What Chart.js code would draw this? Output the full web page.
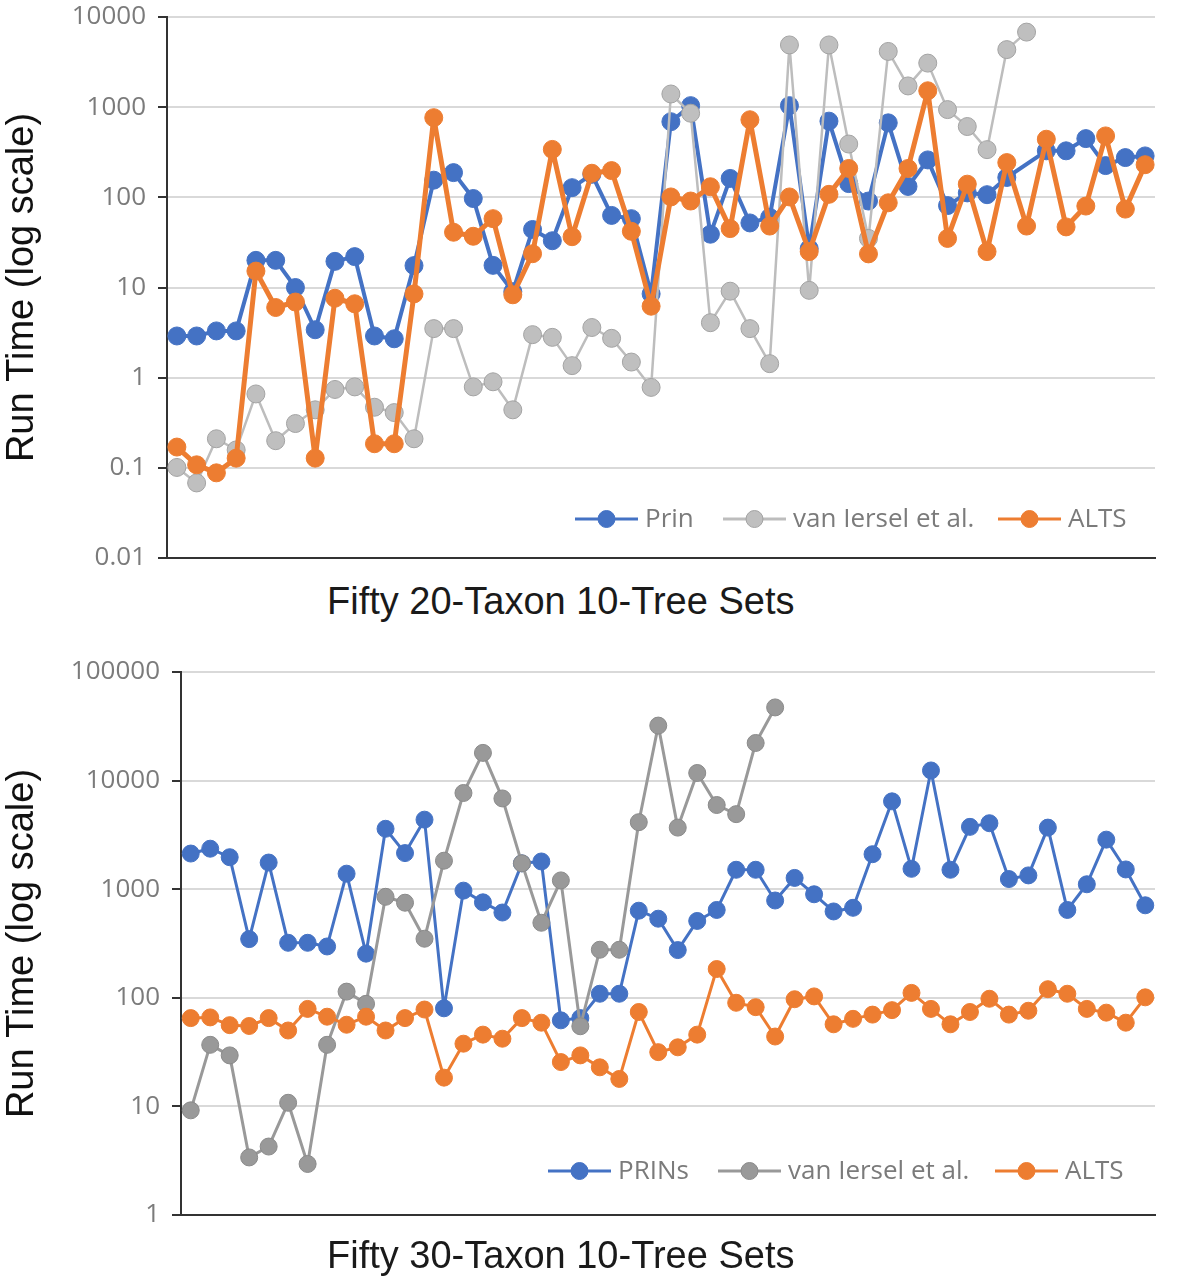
<!DOCTYPE html>
<html>
<head>
<meta charset="utf-8">
<script src="https://cdn.jsdelivr.net/npm/chart.js"></script>
<style>
  body { margin: 0; background: #fff; width: 1177px; height: 1280px; position: relative; overflow: hidden; }
  .box { position: absolute; left: 0; width: 1177px; }
  #topBox { top: 0; height: 580px; }
  #bottomBox { top: 640px; height: 600px; }
  .xtitle { position: absolute; left: 327px; font: 38px "Liberation Sans", Arial, sans-serif; color: #1a1a1a; white-space: nowrap; line-height: 38px; }
</style>
</head>
<body>
<div class="box" id="topBox"><canvas id="chart20"></canvas></div>
<div class="xtitle" style="top:582px">Fifty 20-Taxon 10-Tree Sets</div>
<div class="box" id="bottomBox"><canvas id="chart30"></canvas></div>
<div class="xtitle" style="top:1236px">Fifty 30-Taxon 10-Tree Sets</div>
<script>
// one label per tree set (50 sets in each panel)
const setLabels = [];
for (let i = 1; i <= 50; i++) setLabels.push("Set " + i);

// 20-taxon panel, run times in seconds
const prin20 = [2.9, 2.9, 3.3, 3.3, 20, 20, 10, 3.4, 19.5, 22, 2.9, 2.7, 17.5, 155, 188, 97, 17.6, 9, 44, 33,
  128, 180, 63, 58, 8.5, 690, 1040, 39, 162, 52, 60, 1040, 27, 700, 142, 91, 670, 132, 260, 81,
  112, 107, 166, null, 328, 328, 448, 225, 276, 288];
const iersel20 = [0.101, 0.068, 0.21, 0.158, 0.66, 0.2, 0.31, 0.44, 0.74, 0.79, 0.47, 0.41, 0.21, 3.5, 3.5, 0.79, 0.9, 0.44, 3.0, 2.8,
  1.36, 3.6, 2.73, 1.49, 0.78, 1400, 857, 4.07, 9.1, 3.5, 1.43, 4900, 9.3, 4900, 390, 35, 4150, 1720, 3080, 940,
  610, 338, 4350, 6800, null, null, null, null, null, null];
const alts20 = [0.17, 0.108, 0.088, 0.128, 15.2, 6.0, 6.9, 0.128, 7.6, 6.6, 0.185, 0.185, 8.5, 765, 41, 37, 58, 8.3, 23.7, 340,
  36.6, 185, 198, 42, 6.2, 101, 91, 131, 45, 725, 48, 101, 25, 108, 209, 23.6, 87, 209, 1520, 35,
  140, 25, 243, 48, 441, 47, 80, 480, 74, 230];
const ticks20 = [0.01, 0.1, 1, 10, 100, 1000, 10000];

// 30-taxon panel
const prin30 = [2130, 2360, 1970, 347, 1760, 321, 321, 297, 1390, 255, 3600, 2150, 4370, 80, 970, 757, 610, 1730, 1800, 62,
  65, 109, 109, 634, 535, 275, 510, 644, 1510, 1510, 787, 1270, 898, 624, 674, 2100, 6440, 1540, 12400, 1510,
  3750, 4050, 1240, 1340, 3690, 644, 1110, 2860, 1520, 711];
const iersel30 = [9.2, 36.9, 29.5, 3.39, 4.27, 10.8, 2.95, 36.9, 114, 88, 851, 751, 350, 1830, 7690, 18000, 6850, 1730, 491, 1205,
  54.7, 277, 277, 4140, 32100, 3690, 11750, 5960, 4910, 22200, 47200, null, null, null, null, null, null, null, null, null,
  null, null, null, null, null, null, null, null, null, null];
const alts30 = [65, 66, 56, 55, 65, 50, 79, 67, 56.5, 67, 50, 65, 78, 18.4, 37.8, 45.8, 42, 65, 59, 25.6,
  29.5, 22.9, 17.9, 74, 31.6, 35, 45.8, 184, 90, 82, 44, 97, 103, 57, 64, 70, 77, 111, 79, 57,
  74, 98, 70, 76, 120, 109, 79, 73, 59, 101];
const ticks30 = [1, 10, 100, 1000, 10000, 100000];

const BLUE = "#4472C4", ORANGE = "#ED7D31";

// Excel-style legend drawn inside the plot area: short line with a marker, then the label
const insideLegend = {
  id: "insideLegend",
  afterDatasetsDraw(chart, args, opts) {
    const ctx = chart.ctx;
    ctx.save();
    ctx.font = opts.font;
    ctx.textBaseline = "middle";
    chart.data.datasets.forEach((ds, i) => {
      const x = opts.xs[i], y = opts.y;
      ctx.strokeStyle = ds.borderColor;
      ctx.lineWidth = 3;
      ctx.beginPath();
      ctx.moveTo(x, y);
      ctx.lineTo(x + opts.lineLen, y);
      ctx.stroke();
      ctx.beginPath();
      ctx.arc(x + opts.lineLen / 2, y, opts.radius, 0, Math.PI * 2);
      ctx.fillStyle = ds.pointBackgroundColor;
      ctx.fill();
      ctx.lineWidth = 1;
      ctx.strokeStyle = ds.pointBorderColor;
      ctx.stroke();
      ctx.fillStyle = "#7b7b7b";
      ctx.fillText(ds.label, x + opts.lineLen + 7, y + 1);
    });
    ctx.restore();
  }
};

function series(label, data, color, pointFill, pointBorder, width, radius, order) {
  return {
    label: label,
    data: data,
    borderColor: color,
    borderWidth: width,
    borderJoinStyle: "round",
    pointBackgroundColor: pointFill,
    pointBorderColor: pointBorder,
    pointBorderWidth: 1,
    pointRadius: radius,
    tension: 0,
    spanGaps: true,
    clip: false,
    order: order
  };
}

function makeChart(id, datasets, tickVals, yMin, yMax, axisX, areaBottom, boxH, topPad, legendOpts) {
  return new Chart(document.getElementById(id), {
    type: "line",
    data: { labels: setLabels, datasets: datasets },
    plugins: [insideLegend],
    options: {
      responsive: true,
      maintainAspectRatio: false,
      animation: false,
      layout: { padding: { top: topPad, right: 22, left: 0, bottom: 0 } },
      plugins: {
        legend: { display: false },
        tooltip: { enabled: false },
        insideLegend: legendOpts
      },
      scales: {
        x: {
          type: "category",
          offset: true,
          grid: { display: false },
          border: { display: true, color: "#333", width: 2 },
          ticks: { display: false },
          afterFit(scale) {
            scale.height = boxH - areaBottom;
            scale.paddingLeft = 0;
            scale.paddingRight = 0;
          }
        },
        y: {
          type: "logarithmic",
          min: yMin,
          max: yMax,
          grid: { color: "#d9d9d9", lineWidth: 2, tickColor: "#333", tickLength: 9, tickWidth: 2 },
          border: { display: true, color: "#333", width: 2 },
          ticks: {
            padding: 12,
            color: "#7b7b7b",
            font: { family: "Open Sans", size: 26 },
            callback: (v) => String(v)
          },
          afterBuildTicks(scale) {
            scale.ticks = tickVals.map((v) => ({ value: v }));
          },
          afterFit(scale) {
            scale.width = axisX;
            scale.paddingTop = 0;
            scale.paddingBottom = 0;
          },
          title: {
            display: true,
            text: "Run Time (log scale)",
            color: "#111",
            padding: { top: 0, bottom: 0 },
            font: { family: "Liberation Sans", size: 38 }
          }
        }
      }
    }
  });
}

makeChart("chart20", [
  series("Prin", prin20, BLUE, BLUE, BLUE, 4, 9, 3),
  series("van Iersel et al.", iersel20, "#BDBDBD", "#BFBFBF", "#A3A3A3", 2.5, 9, 2),
  series("ALTS", alts20, ORANGE, ORANGE, ORANGE, 5, 9, 1)
], ticks20, 0.01, 10000, 167, 558, 580, 17,
  { xs: [575, 723, 998], y: 519, lineLen: 63, radius: 8.5, font: "26px 'Open Sans'" });

makeChart("chart30", [
  series("PRINs", prin30, BLUE, BLUE, BLUE, 3, 8.5, 3),
  series("van Iersel et al.", iersel30, "#999999", "#999999", "#8a8a8a", 3, 8.5, 2),
  series("ALTS", alts30, ORANGE, ORANGE, ORANGE, 3, 8.5, 1)
], ticks30, 1, 100000, 181, 575, 600, 32,
  { xs: [548, 718, 995], y: 531, lineLen: 63, radius: 8.5, font: "26px 'Open Sans'" });
</script>
</body>
</html>
